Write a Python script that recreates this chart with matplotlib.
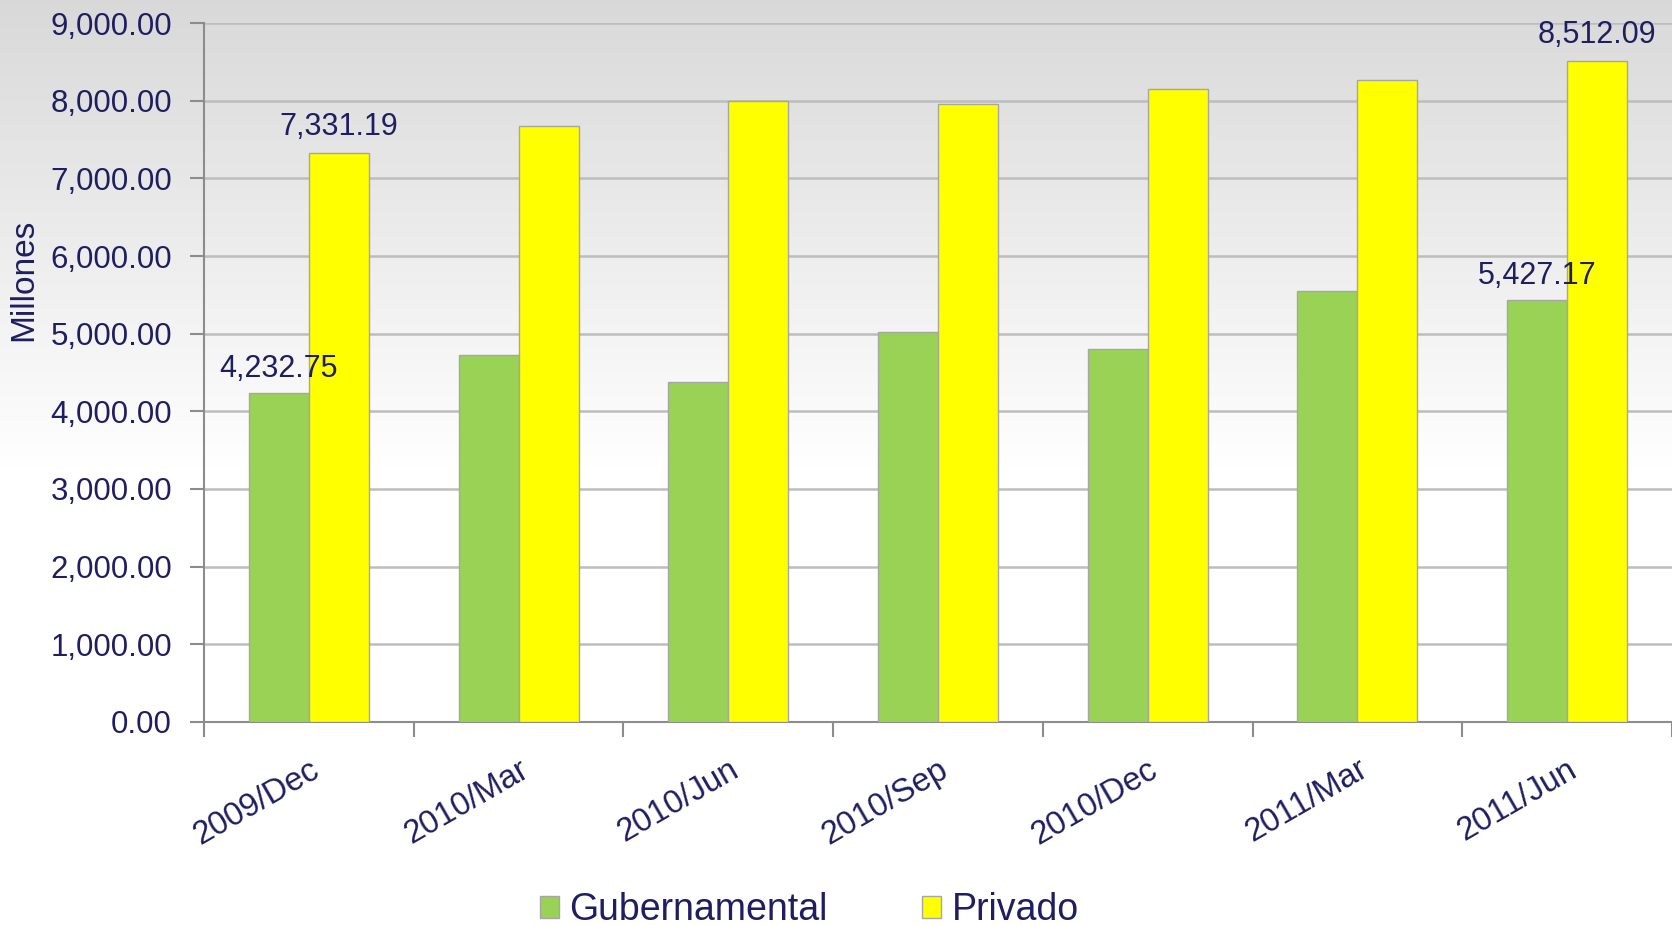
import matplotlib
matplotlib.use('Agg')
import matplotlib.pyplot as plt
import numpy as np
from matplotlib.patches import Patch

# data
periodos = ['2009/Dec', '2010/Mar', '2010/Jun', '2010/Sep', '2010/Dec', '2011/Mar', '2011/Jun']
gubernamental = [4232.75, 4720, 4375, 5025, 4800, 5545, 5427.17]
privado = [7331.19, 7680, 7995, 7955, 8145, 8270, 8512.09]
etiquetas = [0, 6]   # categories that carry value labels

txt = '#1e1e60'
plt.rcParams['font.family'] = ['Liberation Sans', 'DejaVu Sans']

fig = plt.figure(figsize=(16.72, 9.25), dpi=100)

# background gradient (gray at top -> white)
bg = fig.add_axes([0, 0, 1, 1], zorder=0)
rows = 925
v = np.ones(rows)
cut = 470
v[:cut] = np.linspace(0.85, 1.0, cut)
grad = np.repeat(v[:, None], 2, axis=1)
bg.imshow(np.dstack([grad, grad, grad]), aspect='auto', extent=[0, 1, 0, 1])
bg.axis('off')

ax = fig.add_axes([0.122, 0.2195, 0.878, 0.7556], zorder=1)
ax.patch.set_alpha(0)

x = np.arange(len(periodos))
w = 0.286
ax.bar(x - w / 2, gubernamental, w, color='#99d255', edgecolor='#a6a6a6', linewidth=1, zorder=3)
ax.bar(x + w / 2, privado, w, color='#ffff00', edgecolor='#a6a6a6', linewidth=1, zorder=3)

for i in etiquetas:
    ax.annotate(f'{gubernamental[i]:,.2f}', (x[i] - w / 2, gubernamental[i]), xytext=(0, 7),
                textcoords='offset points', ha='center', va='bottom', fontsize=22, color=txt)
    ax.annotate(f'{privado[i]:,.2f}', (x[i] + w / 2, privado[i]), xytext=(0, 8),
                textcoords='offset points', ha='center', va='bottom', fontsize=22, color=txt)

ax.set_xlim(-0.5, len(periodos) - 0.5)
ax.set_ylim(0, 9000)
ax.set_yticks(np.arange(0, 9001, 1000))
ax.yaxis.set_major_formatter(matplotlib.ticker.FuncFormatter(lambda v, p: f'{v:,.2f}'))
ax.yaxis.grid(True, color='#bdbdbd', linewidth=1.8, zorder=0)
ax.set_axisbelow(True)

ax.set_xticks(x)
ax.set_xticklabels(periodos)
ax.set_xticks(np.arange(-0.5, len(periodos)), minor=True)
ax.tick_params(axis='x', which='major', length=0, pad=23, labelsize=23.5, labelcolor=txt)
ax.tick_params(axis='x', which='minor', length=11, color='#8c8c8c', width=1.5)
ax.tick_params(axis='y', length=10, color='#8c8c8c', width=1.5, pad=13, labelsize=22.5, labelcolor=txt)
plt.setp(ax.get_xticklabels(), rotation=30, ha='right', va='top', rotation_mode='anchor')

for s in ['top', 'right']:
    ax.spines[s].set_visible(False)
for s in ['left', 'bottom']:
    ax.spines[s].set_color('#8c8c8c')
    ax.spines[s].set_linewidth(1.5)

fig.text(0.014, 0.697, 'Millones', rotation=90, ha='center', va='center', fontsize=24, color=txt)

handles = [Patch(facecolor='#99d255', edgecolor='#a6a6a6', label='Gubernamental'),
           Patch(facecolor='#ffff00', edgecolor='#a6a6a6', label='Privado')]
leg = fig.legend(handles=handles, loc='center', bbox_to_anchor=(0.484, 0.016), ncol=2,
                 frameon=False, fontsize=27, handlelength=0.52, handleheight=0.55,
                 handletextpad=0.28, columnspacing=2.5, borderaxespad=0)
for t in leg.get_texts():
    t.set_color(txt)

fig.savefig('out.png', dpi=100)
